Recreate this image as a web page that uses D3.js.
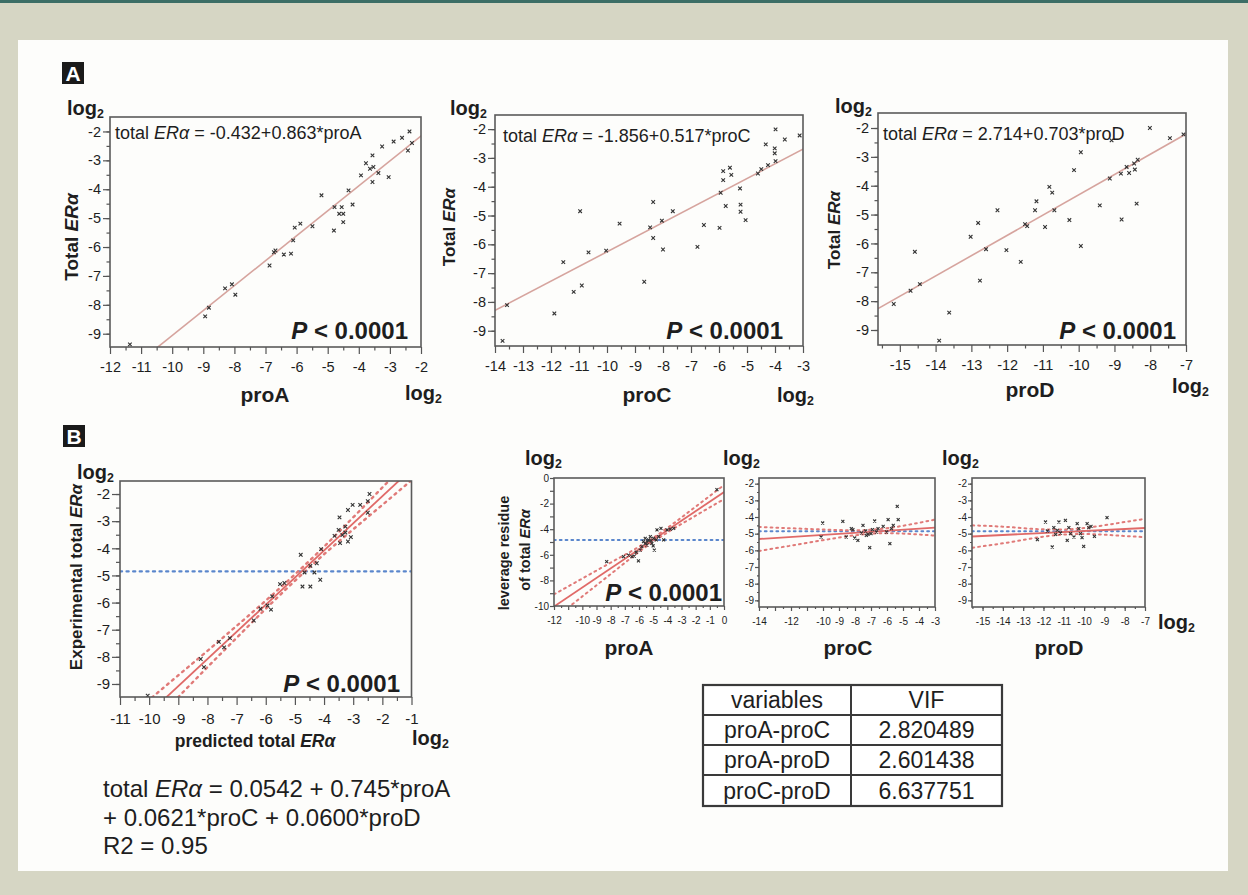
<!DOCTYPE html>
<html><head><meta charset="utf-8">
<script src="https://cdn.jsdelivr.net/npm/d3@7"></script>
<style>body{margin:0;background:#d6d6c4;} svg{display:block;font-family:"Liberation Sans",Arial,sans-serif;}</style>
</head><body><script>
// ================= DATA =================
const proAPoints = [[-11.36,-9.37],[-8.94,-8.40],[-8.82,-8.10],[-8.30,-7.43],[-8.08,-7.29],[-7.97,-7.65],[-6.87,-6.64],[-6.73,-6.18],[-6.68,-6.12],[-6.41,-6.26],[-6.18,-6.23],[-6.11,-5.77],[-6.06,-5.33],[-5.88,-5.19],[-5.49,-5.28],[-5.20,-4.21],[-4.80,-5.43],[-4.78,-4.62],[-4.63,-4.85],[-4.55,-4.62],[-4.50,-4.85],[-4.50,-5.14],[-4.33,-4.04],[-4.20,-4.53],[-3.93,-3.52],[-3.77,-3.10],[-3.64,-3.29],[-3.56,-2.83],[-3.53,-3.23],[-3.56,-3.75],[-3.37,-3.44],[-3.04,-3.58],[-3.25,-2.52],[-2.88,-2.35],[-2.61,-2.22],[-2.37,-2.00],[-2.42,-2.66],[-2.29,-2.40]];
const proCPoints = [[-13.73,-9.35],[-13.57,-8.11],[-11.88,-8.40],[-11.56,-6.62],[-11.19,-7.65],[-10.90,-7.43],[-10.96,-4.85],[-10.66,-6.28],[-10.03,-6.22],[-9.55,-5.28],[-8.67,-7.30],[-8.46,-5.41],[-8.35,-4.53],[-8.35,-5.78],[-8.04,-5.18],[-8.00,-6.18],[-7.65,-4.85],[-6.77,-6.09],[-6.54,-5.33],[-5.98,-5.43],[-5.94,-4.21],[-5.85,-3.77],[-5.85,-3.46],[-5.76,-4.67],[-5.61,-3.34],[-5.56,-3.59],[-5.25,-4.06],[-5.23,-4.62],[-5.23,-4.87],[-5.05,-5.16],[-4.61,-3.54],[-4.49,-3.39],[-4.25,-3.25],[-4.33,-2.53],[-4.01,-2.67],[-4.01,-2.84],[-3.98,-3.11],[-3.98,-2.01],[-3.65,-2.36],[-3.12,-2.22]];
const proDPoints = [[-15.17,-8.10],[-14.70,-7.64],[-14.58,-6.29],[-14.44,-7.41],[-13.90,-9.37],[-13.62,-8.40],[-13.02,-5.77],[-12.81,-5.29],[-12.76,-7.29],[-12.59,-6.20],[-12.27,-4.85],[-12.02,-6.23],[-11.62,-6.64],[-11.50,-5.33],[-11.44,-5.40],[-11.22,-4.85],[-11.18,-4.54],[-10.94,-5.43],[-10.82,-4.04],[-10.74,-4.24],[-10.68,-4.85],[-10.26,-5.19],[-10.13,-3.46],[-9.94,-2.84],[-9.94,-6.09],[-9.41,-4.68],[-9.13,-3.75],[-9.08,-2.43],[-8.82,-3.58],[-8.80,-5.17],[-8.66,-3.35],[-8.59,-3.56],[-8.45,-3.23],[-8.43,-3.44],[-8.38,-4.62],[-8.35,-3.10],[-8.01,-2.00],[-7.45,-2.35],[-7.07,-2.22]];
const predPoints = [[-10.05,-9.43],[-8.23,-8.08],[-8.12,-8.38],[-7.61,-7.45],[-7.43,-7.65],[-7.23,-7.31],[-6.41,-6.66],[-6.18,-6.23],[-5.94,-6.11],[-5.82,-6.26],[-5.78,-5.77],[-5.51,-5.32],[-5.36,-5.28],[-4.80,-4.24],[-4.74,-5.41],[-4.67,-4.89],[-4.47,-5.41],[-4.47,-4.65],[-4.33,-4.89],[-4.25,-4.55],[-4.13,-5.16],[-4.10,-4.03],[-3.64,-3.54],[-3.47,-2.86],[-3.50,-3.32],[-3.45,-3.81],[-3.37,-3.51],[-3.27,-3.20],[-3.27,-3.42],[-3.08,-3.59],[-3.18,-2.59],[-3.02,-2.40],[-2.76,-2.40],[-2.50,-2.26],[-2.44,-2.00],[-2.50,-2.69],[-3.18,-3.75]];
const levAPoints = [[-8.28,-6.54],[-7.10,-6.15],[-6.75,-6.02],[-6.50,-6.15],[-6.34,-6.10],[-6.04,-6.47],[-5.92,-5.63],[-5.80,-5.37],[-5.68,-4.97],[-5.56,-4.71],[-5.44,-5.24],[-5.33,-4.84],[-5.20,-4.58],[-5.09,-5.10],[-4.97,-4.71],[-4.92,-5.63],[-4.78,-4.84],[-4.73,-4.06],[-4.61,-4.58],[-4.45,-3.93],[-4.26,-4.84],[-4.02,-4.06],[-3.79,-4.00],[-3.55,-3.93],[-5.56,-5.10],[-5.40,-5.00],[-5.15,-4.90],[-6.20,-5.80],[-5.00,-5.30],[-0.50,-0.90]];
const levCPoints = [[-10.02,-4.36],[-10.12,-5.20],[-8.76,-4.26],[-8.55,-5.20],[-8.23,-4.70],[-8.13,-4.76],[-8.02,-5.26],[-7.82,-5.40],[-7.50,-4.50],[-7.33,-4.84],[-7.19,-5.04],[-7.08,-5.84],[-6.91,-4.76],[-6.77,-4.24],[-6.66,-4.90],[-6.56,-4.70],[-6.24,-4.56],[-6.03,-4.90],[-5.93,-4.16],[-5.82,-5.60],[-5.72,-4.70],[-5.61,-4.50],[-5.36,-3.36],[-5.30,-4.16],[-7.29,-5.10],[-7.60,-4.96],[-7.00,-5.00]];
const levDPoints = [[-12.30,-5.36],[-11.90,-4.30],[-11.81,-4.84],[-11.57,-5.80],[-11.49,-4.64],[-11.32,-4.80],[-11.24,-4.30],[-11.16,-4.96],[-10.92,-4.20],[-10.83,-5.40],[-10.75,-4.64],[-10.67,-5.00],[-10.50,-5.20],[-10.34,-4.40],[-10.26,-4.70],[-10.18,-5.00],[-10.10,-5.24],[-10.02,-5.76],[-9.85,-4.40],[-9.77,-4.64],[-9.66,-4.56],[-9.49,-5.16],[-8.87,-4.04],[-11.40,-5.04]];

// fitted lines: [intercept, slope]
const fitProA = [-0.432, 0.863];
const fitProC = [-1.17, 0.509];
const fitProD = [2.714, 0.703];
const fitPred = [-0.08, 1.0];
const fitLevA = [-1.10, 0.745];
const fitLevC = [-4.45, 0.0621];
const fitLevD = [-4.24, 0.0600];
const meanLevel = -4.85;

// confidence band half-widths: [x, half-width]
const bandPred = [[-10.6,0.55],[-9,0.4],[-8,0.3],[-7,0.22],[-6,0.15],[-5,0.12],[-4,0.14],[-3,0.22],[-2,0.32],[-0.9,0.42]];
const bandLevA = [[-12,0.95],[-10,0.7],[-8,0.45],[-6,0.2],[-5,0.15],[-4,0.18],[-2,0.35],[0,0.55]];
const bandLevC = [[-14,0.72],[-12,0.52],[-10,0.32],[-8,0.15],[-7,0.12],[-6,0.15],[-4,0.35],[-3,0.48]];
const bandLevD = [[-15.5,0.67],[-14,0.5],[-12,0.22],[-11,0.15],[-10,0.18],[-8,0.42],[-7,0.55]];

// tick values / labels
const ticksProA = [-12,-11,-10,-9,-8,-7,-6,-5,-4,-3,-2];
const ticksProC = [-14,-13,-12,-11,-10,-9,-8,-7,-6,-5,-4,-3];
const ticksProD = [-15,-14,-13,-12,-11,-10,-9,-8,-7];
const ticksPred = [-11,-10,-9,-8,-7,-6,-5,-4,-3,-2,-1];
const ticksTotal = [-9,-8,-7,-6,-5,-4,-3,-2];
const ticksLevAx = [-12,-11,-10,-9,-8,-7,-6,-5,-4,-3,-2,-1,0];
const labelsLevAx = [-12,-10,-9,-8,-7,-6,-5,-4,-3,-2,-1,0];
const ticksLevAy = [0,-1,-2,-3,-4,-5,-6,-7,-8,-9,-10];
const labelsLevAy = [0,-2,-4,-6,-8,-10];
const ticksLevCx = [-14,-13,-12,-11,-10,-9,-8,-7,-6,-5,-4,-3];
const labelsLevCx = [-14,-12,-10,-9,-8,-7,-6,-5,-4,-3];
const ticksLevY = [-2,-3,-4,-5,-6,-7,-8,-9];
const ticksLevDx = [-15,-14,-13,-12,-11,-10,-9,-8,-7];

const eqA = ["-0.432+0.863*proA", "-1.856+0.517*proC", "2.714+0.703*proD"];
const vifVars = ["proA-proC","proA-proD","proC-proD"];
const vifVals = ["2.820489","2.601438","6.637751"];

// ================= DRAWING =================
const W=1248,H=895;
const svg=d3.select('body').append('svg').attr('width',W).attr('height',H);
svg.append('rect').attr('width',W).attr('height',H).attr('fill','#d6d6c4');
svg.append('rect').attr('width',W).attr('height',3).attr('fill','#3c6e66');
svg.append('rect').attr('x',18).attr('y',40).attr('width',1210).attr('height',831).attr('fill','#fdfdfb');

const TXT='#1e1e1e';
let clipN=0;
function range(a,b,s){return d3.range(a,b+s/2,s);}

function panel(c){
  const x=d3.scaleLinear().domain(c.xDomain).range([c.left,c.right]);
  const y=d3.scaleLinear().domain(c.yDomain).range([c.bottom,c.top]);
  const id='cp'+(clipN++);
  svg.append('clipPath').attr('id',id).append('rect')
    .attr('x',c.left).attr('y',c.top).attr('width',c.right-c.left).attr('height',c.bottom-c.top);
  const g=svg.append('g').attr('clip-path',`url(#${id})`);
  const f=v=>c.fit[0]+c.fit[1]*v;
  if(c.hline!==undefined){
    g.append('line').attr('x1',c.left).attr('x2',c.right).attr('y1',y(c.hline)).attr('y2',y(c.hline))
      .attr('stroke','#5a86cc').attr('stroke-width',c.dotW).attr('stroke-dasharray',c.dash).attr('stroke-linecap','round');
  }
  if(c.band){
    [1,-1].forEach(s=>{
      g.append('path').datum(c.band)
        .attr('d',d3.line().curve(d3.curveMonotoneX).x(d=>x(d[0])).y(d=>y(f(d[0])+s*d[1])))
        .attr('fill','none').attr('stroke','#e07a78').attr('stroke-width',c.dotW)
        .attr('stroke-dasharray',c.dash).attr('stroke-linecap','round');
    });
  }
  const xs=[c.xDomain[0]-1,c.xDomain[1]+1];
  g.append('line').attr('x1',x(xs[0])).attr('y1',y(f(xs[0]))).attr('x2',x(xs[1])).attr('y2',y(f(xs[1])))
    .attr('stroke',c.lineColor).attr('stroke-width',c.lineW);
  g.selectAll('path.pt').data(c.points).join('path').attr('class','pt')
    .attr('d',`M-${c.ms},-${c.ms}L${c.ms},${c.ms}M-${c.ms},${c.ms}L${c.ms},-${c.ms}`)
    .attr('transform',d=>`translate(${x(d[0])},${y(d[1])})`)
    .attr('stroke','#333').attr('stroke-width',1.1).attr('fill','none');
  svg.append('rect').attr('x',c.left).attr('y',c.top).attr('width',c.right-c.left).attr('height',c.bottom-c.top)
    .attr('fill','none').attr('stroke','#5a5a5a').attr('stroke-width',1.6);

  function style(sel,fs){
    sel.select('.domain').remove();
    sel.selectAll('line').attr('stroke','#555').attr('stroke-width',1.2);
    sel.selectAll('text').attr('font-size',fs).attr('fill',TXT).attr('font-family','"Liberation Sans",Arial,sans-serif');
  }
  const xl=c.xLabels||c.xTicks, yl=c.yLabels||c.yTicks;
  const bx=svg.append('g').attr('transform',`translate(0,${c.bottom})`)
    .call(d3.axisBottom(x).tickValues(c.xTicks).tickFormat(d=>xl.includes(d)?String(d):'').tickSize(c.tick).tickPadding(c.xPad).tickSizeOuter(0));
  style(bx,c.fs);
  const by=svg.append('g').attr('transform',`translate(${c.left},0)`)
    .call(d3.axisLeft(y).tickValues(c.yTicks).tickFormat(d=>yl.includes(d)?String(d):'').tickSize(c.tick).tickPadding(c.yPad).tickSizeOuter(0));
  style(by,c.fs);
  if(c.xMinor){
    const m=svg.append('g').attr('transform',`translate(0,${c.bottom})`)
      .call(d3.axisBottom(x).tickValues(c.xMinor).tickFormat('').tickSize(c.tick*0.5).tickSizeOuter(0));
    style(m,c.fs);
  }
  if(c.yMinor){
    const m=svg.append('g').attr('transform',`translate(${c.left},0)`)
      .call(d3.axisLeft(y).tickValues(c.yMinor).tickFormat('').tickSize(c.tick*0.5).tickSizeOuter(0));
    style(m,c.fs);
  }
  return {x,y};
}

function log2(xp,yp,size){
  const t=svg.append('text').attr('x',xp).attr('y',yp).attr('font-weight','bold').attr('font-size',size).attr('fill',TXT);
  t.append('tspan').text('log');
  t.append('tspan').attr('font-size',size*0.62).attr('dy',size*0.15).text('2');
}
function eraText(sel,prefix,suffix){
  sel.append('tspan').text(prefix);
  sel.append('tspan').attr('font-style','italic').text('ERα');
  if(suffix) sel.append('tspan').text(suffix);
}
function pText(xp,yp,size){
  const t=svg.append('text').attr('x',xp).attr('y',yp).attr('text-anchor','end').attr('font-weight','bold').attr('font-size',size).attr('fill',TXT);
  t.append('tspan').attr('font-style','italic').text('P');
  t.append('tspan').text(' < 0.0001');
}
function rotLabel(xp,yp,size,prefix,suffix,bold){
  const t=svg.append('text').attr('transform',`translate(${xp},${yp}) rotate(-90)`).attr('text-anchor','middle')
    .attr('font-weight',bold?'bold':'normal').attr('font-size',size).attr('fill',TXT);
  eraText(t,prefix,suffix);
}
function label(xp,yp,size,txt,anchor,bold){
  svg.append('text').attr('x',xp).attr('y',yp).attr('text-anchor',anchor||'start').attr('font-weight',bold?'bold':'normal')
    .attr('font-size',size).attr('fill',TXT).text(txt);
}
function boxLetter(xp,yp,letter){
  svg.append('rect').attr('x',xp).attr('y',yp).attr('width',22).attr('height',22).attr('fill','#1a1a1a');
  svg.append('text').attr('x',xp+11).attr('y',yp+19).attr('text-anchor','middle').attr('font-weight','bold')
    .attr('font-size',21).attr('fill','#fff').text(letter);
}

// ---------- Panel A ----------
boxLetter(62,62,'A');
const aCommon={tick:7,xPad:8,yPad:2,fs:14.5,lineColor:'#d6a49e',lineW:1.6,ms:1.8,dotW:2,dash:'2,4',yTicks:ticksTotal};
panel(Object.assign({},aCommon,{left:110,right:421,top:117,bottom:347,xDomain:[-12,-2],yDomain:[-9.46,-1.5],
  xTicks:ticksProA,xMinor:range(-11.5,-2.5,1),yMinor:range(-9,-2,0.5),points:proAPoints,fit:fitProA}));
panel(Object.assign({},aCommon,{left:495,right:803,top:115,bottom:346,xDomain:[-14,-3],yDomain:[-9.53,-1.51],
  xTicks:ticksProC,xMinor:range(-13.5,-3.5,1),yMinor:range(-9,-2,0.5),points:proCPoints,fit:fitProC}));
panel(Object.assign({},aCommon,{left:878,right:1186,top:113,bottom:345,xDomain:[-15.61,-7],yDomain:[-9.52,-1.48],
  xTicks:ticksProD,xMinor:range(-15.5,-7.5,1),yMinor:range(-9,-2,0.5),points:proDPoints,fit:fitProD}));

[[67,115],[450,115],[835,113]].forEach(p=>log2(p[0],p[1],20));
[[405,400],[777,402],[1172,393]].forEach(p=>log2(p[0],p[1],20));
[[265,402,'proA'],[647,402,'proC'],[1030,397,'proD']].forEach(p=>label(p[0],p[1],21,p[2],'middle',true));
rotLabel(78,237,19,'Total ','',true);
rotLabel(455,227,17,'Total ','',true);
rotLabel(840,230,17,'Total ','',true);
[[115,139],[503,142],[883,140]].forEach((p,i)=>{
  const t=svg.append('text').attr('x',p[0]).attr('y',p[1]).attr('font-size',18).attr('fill',TXT);
  eraText(t,'total ',' = '+eqA[i]);
});
pText(408,339,24); pText(783,339,24); pText(1176,339,24);

// ---------- Panel B ----------
boxLetter(63,425,'B');
panel({left:120,right:411.5,top:481,bottom:697,xDomain:[-11,-1],yDomain:[-9.48,-1.52],
  xTicks:ticksPred,yTicks:ticksTotal,xMinor:range(-10.5,-1.5,1),yMinor:range(-9,-2,0.5),
  tick:8,xPad:8,yPad:2,fs:15,lineColor:'#e06a68',lineW:1.8,ms:1.8,dotW:2.4,dash:'2,4.6',
  points:predPoints,fit:fitPred,band:bandPred,hline:meanLevel});
log2(77,479,20);
log2(412,745,20);
rotLabel(82,577,17,'Experimental total ','',true);
{ const t=svg.append('text').attr('x',255).attr('y',747).attr('text-anchor','middle').attr('font-weight','bold').attr('font-size',17.5).attr('fill',TXT);
  eraText(t,'predicted total ',''); }
pText(400,692,24);

// formula
{ const t=svg.append('text').attr('x',103).attr('y',797).attr('font-size',24).attr('fill',TXT);
  eraText(t,'total ',' = 0.0542 + 0.745*proA'); }
label(103,826,24,'+ 0.0621*proC + 0.0600*proD');
label(103,854,24,'R2 = 0.95');

// leverage plots
const lCommon={tick:4,xPad:7,yPad:1,fs:10,lineColor:'#e06a68',lineW:1.8,ms:1.5,dotW:2,dash:'1.8,4',hline:meanLevel};
panel(Object.assign({},lCommon,{left:554,right:724,top:478,bottom:606,xDomain:[-12,0],yDomain:[-10,0],
  xTicks:ticksLevAx,xLabels:labelsLevAx,yTicks:ticksLevAy,yLabels:labelsLevAy,xMinor:range(-11.5,-0.5,1),
  points:levAPoints,fit:fitLevA,band:bandLevA}));
panel(Object.assign({},lCommon,{left:759,right:935,top:478,bottom:607,xDomain:[-14,-3],yDomain:[-9.4,-1.66],
  xTicks:ticksLevCx,xLabels:labelsLevCx,yTicks:ticksLevY,yMinor:range(-9,-2,0.5),xMinor:range(-13.5,-3.5,1),
  points:levCPoints,fit:fitLevC,band:bandLevC}));
panel(Object.assign({},lCommon,{left:972,right:1145,top:478,bottom:607,xDomain:[-15.52,-7],yDomain:[-9.4,-1.66],
  xTicks:ticksLevDx,yTicks:ticksLevY,yMinor:range(-9,-2,0.5),xMinor:range(-15.5,-7.5,0.5),
  points:levDPoints,fit:fitLevD,band:bandLevD}));
[[525,465],[723,465],[942,465]].forEach(p=>log2(p[0],p[1],20));
log2(1158,629,20);
[[629,655,'proA'],[848,655,'proC'],[1059,655,'proD']].forEach(p=>label(p[0],p[1],21,p[2],'middle',true));
{ const t=svg.append('text').attr('transform','translate(509,553) rotate(-90)').attr('text-anchor','middle')
    .attr('font-weight','bold').attr('font-size',14.5).attr('fill',TXT).text('leverage residue'); }
rotLabel(530,550,14.5,'of total ','',true);
pText(722,601,24);

// ---------- VIF table ----------
const tX0=703,tX1=1002,tXm=851,rowY=[685,715,745,775,806];
const tg=svg.append('g');
tg.append('rect').attr('x',tX0).attr('y',rowY[0]).attr('width',tX1-tX0).attr('height',rowY[4]-rowY[0])
  .attr('fill','#fff').attr('stroke','#3a3a3a').attr('stroke-width',2.2);
tg.append('line').attr('x1',tXm).attr('x2',tXm).attr('y1',rowY[0]).attr('y2',rowY[4]).attr('stroke','#3a3a3a').attr('stroke-width',2);
rowY.slice(1,4).forEach(yv=>tg.append('line').attr('x1',tX0).attr('x2',tX1).attr('y1',yv).attr('y2',yv).attr('stroke','#3a3a3a').attr('stroke-width',2));
const cellRows=[["variables","VIF"]].concat(vifVars.map((v,i)=>[v,vifVals[i]]));
cellRows.forEach((r,i)=>{
  const yc=(rowY[i]+rowY[i+1])/2+8;
  label((tX0+tXm)/2,yc,23,r[0],'middle',false);
  label((tXm+tX1)/2,yc,23,r[1],'middle',false);
});
</script></body></html>
